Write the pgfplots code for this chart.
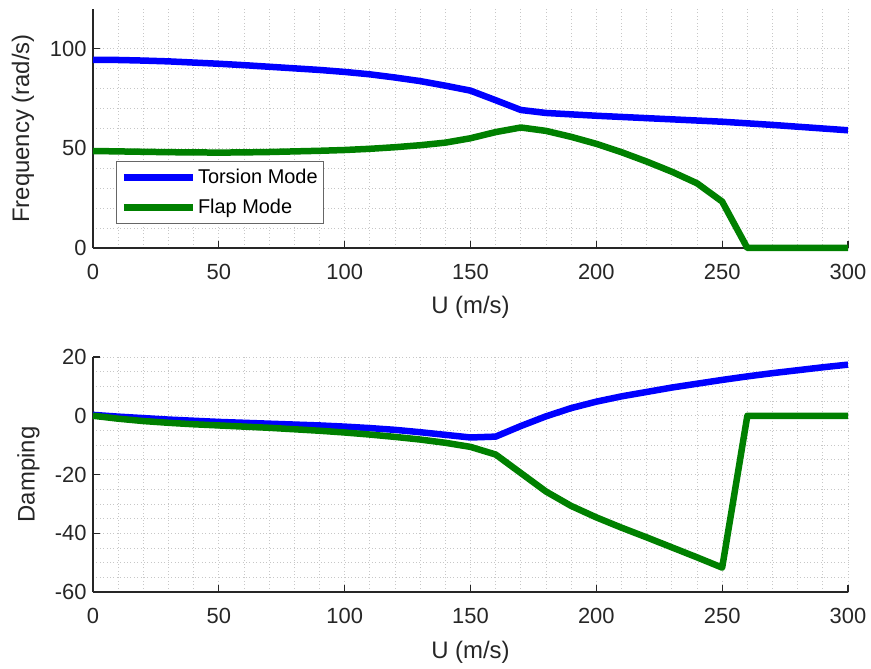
\documentclass[border=0pt]{standalone}
\usepackage{fontspec}
\setmainfont{Liberation Sans}
\usepackage{pgfplots}
\pgfplotsset{compat=1.18}
\definecolor{axc}{RGB}{38,38,38}
\definecolor{mblue}{RGB}{0,0,255}
\definecolor{mgreen}{RGB}{0,128,0}
\pgfplotsset{
 mystyle/.style={
  scale only axis, width=755bp, xmin=0, xmax=300,
  axis x line*=bottom, axis y line*=left,
  axis line style={axc, line width=1.3bp},
  tick style={axc, line width=1.3bp},
  major tick length=7bp, minor tick length=0pt,
  tick align=inside,
  xtick={0,50,...,300}, minor x tick num=4,
  grid=both,
  major grid style={black!22, line width=0.7bp, dash pattern=on 1bp off 2.4bp},
  minor grid style={black!22, line width=0.7bp, dash pattern=on 1bp off 2.4bp},
  xticklabel style={font=\fontsize{22}{26}\selectfont, text=axc, yshift=-13bp},
  yticklabel style={font=\fontsize{22}{26}\selectfont, text=axc, xshift=-3bp},
  /pgf/number format/assume math mode=true,
  xlabel style={font=\fontsize{24}{28}\selectfont, text=axc, at={(axis description cs:0.5,-0.247)}, anchor=center},
  ylabel style={font=\fontsize{24}{28}\selectfont, text=axc, anchor=center},
  clip=false,
  every axis plot/.append style={line width=6.5bp, line join=round, no marks},
 }
}
\begin{document}
\begin{tikzpicture}
\path (0bp,0bp) rectangle (871bp,669bp);
\begin{axis}[mystyle, at={(93bp,421bp)}, anchor=south west, height=239bp,
  ymin=0, ymax=120, ytick={0,50,100}, minor y tick num=4,
  xlabel={U (m/s)}, ylabel={Frequency (rad/s)},
  ylabel style={at={(axis description cs:-0.0927,0.5)}},
  legend style={at={(axis description cs:0.0305,0.364)}, anchor=north west,
    draw=black!60, line width=1bp, fill=white,
    font=\fontsize{20}{24}\selectfont, text=black,
    inner xsep=4bp, inner ysep=6bp, row sep=10bp,
    nodes={inner sep=2bp}},
  legend cell align=left,
  legend image code/.code={\draw[#1, line width=6.5bp] (0bp,0bp) -- (69bp,0bp);},
]
\addplot[mblue] coordinates {(0,94.5)(10,94.4)(20,94.1)(30,93.7)(40,93.1)(50,92.5)(60,91.8)(70,91.0)(80,90.2)(90,89.4)(100,88.4)(110,87.2)(120,85.6)(130,83.8)(140,81.5)(150,79.0)(160,74.2)(170,69.3)(180,67.8)(190,67.1)(200,66.4)(210,65.8)(220,65.2)(230,64.6)(240,64.0)(250,63.4)(260,62.6)(270,61.8)(280,60.9)(290,60.0)(300,59.1)};
\addlegendentry{Torsion Mode\hspace{10bp}}
\addplot[mgreen] coordinates {(0,48.7)(10,48.5)(20,48.3)(30,48.1)(40,48.0)(50,47.9)(60,48.0)(70,48.2)(80,48.5)(90,48.8)(100,49.2)(110,49.8)(120,50.6)(130,51.6)(140,52.9)(150,55.1)(160,58.2)(170,60.5)(180,58.8)(190,55.8)(200,52.3)(210,48.1)(220,43.4)(230,38.3)(240,32.5)(250,23.3)(260,0)(270,0)(280,0)(290,0)(300,0)};
\addlegendentry{Flap Mode}
\end{axis}
\begin{axis}[mystyle, at={(93bp,77bp)}, anchor=south west, height=235bp,
  ymin=-60, ymax=20, ytick={-60,-40,-20,0,20}, minor y tick num=3,
  xlabel={U (m/s)}, ylabel={Damping},
  xlabel style={at={(axis description cs:0.5,-0.255)}},
  ylabel style={at={(axis description cs:-0.0854,0.5)}},
]
\addplot[mblue] coordinates {(0,0.3)(10,-0.3)(20,-0.8)(30,-1.3)(40,-1.7)(50,-2.1)(60,-2.4)(70,-2.7)(80,-3.0)(90,-3.3)(100,-3.7)(110,-4.2)(120,-4.8)(130,-5.6)(140,-6.5)(150,-7.4)(160,-7.1)(170,-3.5)(180,-0.2)(190,2.6)(200,4.8)(210,6.6)(220,8.1)(230,9.6)(240,10.9)(250,12.2)(260,13.4)(270,14.5)(280,15.5)(290,16.5)(300,17.4)};
\addplot[mgreen] coordinates {(0,0.0)(10,-1.0)(20,-1.8)(30,-2.4)(40,-2.9)(50,-3.3)(60,-3.7)(70,-4.1)(80,-4.6)(90,-5.1)(100,-5.7)(110,-6.4)(120,-7.2)(130,-8.1)(140,-9.2)(150,-10.6)(160,-13.2)(170,-19.5)(180,-25.8)(190,-30.7)(200,-34.6)(210,-38.1)(220,-41.4)(230,-44.8)(240,-48.2)(250,-51.7)(260,0)(270,0)(280,0)(290,0)(300,0)};
\end{axis}
\end{tikzpicture}
\end{document}
